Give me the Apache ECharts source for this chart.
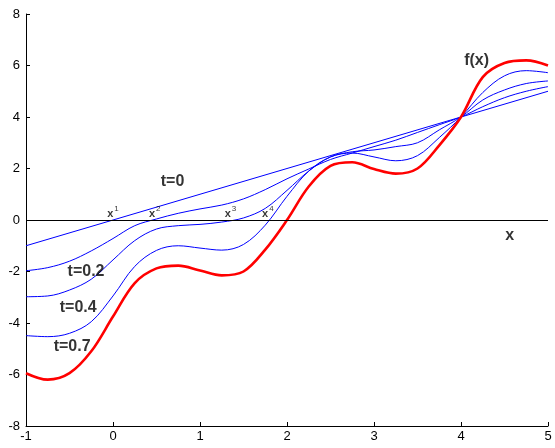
<!DOCTYPE html>
<html>
<head>
<meta charset="utf-8">
<script src="https://cdn.jsdelivr.net/npm/echarts@6/dist/echarts.min.js"></script>
<style>html,body{margin:0;padding:0;background:#fff}#c{width:555px;height:448px}</style>
</head>
<body>
<div id="c"></div>
<script>
var xs = [-1,-0.75,-0.5,-0.25,0,0.25,0.5,0.75,1,1.25,1.5,1.75,2,2.25,2.5,2.75,3,3.25,3.5,3.75,4,4.25,4.5,4.75,5];
var fx   = [-5.95,-6.2,-5.95,-5.1,-3.75,-2.45,-1.88,-1.77,-1.96,-2.15,-2.0,-1.15,0.0,1.3,2.1,2.24,1.98,1.8,2.0,2.9,4.0,5.55,6.1,6.2,6.0];
var t07  = [-4.49,-4.53,-4.4,-3.95,-2.95,-1.8,-1.18,-1.0,-1.09,-1.17,-0.95,-0.2,0.92,1.9,2.45,2.6,2.45,2.3,2.5,3.2,4.0,4.95,5.6,5.8,5.72];
var t04  = [-2.98,-2.95,-2.72,-2.3,-1.55,-0.8,-0.35,-0.22,-0.17,-0.08,0.08,0.45,1.15,1.9,2.45,2.65,2.72,2.85,3.0,3.5,4.0,4.66,5.05,5.3,5.4];
var t02  = [-1.97,-1.85,-1.6,-1.2,-0.72,-0.22,0.04,0.26,0.43,0.58,0.82,1.18,1.6,1.98,2.35,2.6,2.85,3.1,3.4,3.7,4.0,4.4,4.75,5.0,5.18];
var t0x  = [-1,5];
var t0y  = [-1,5];
var xTicks = [-1,0,1,2,3,4,5];
var yTicks = [-8,-6,-4,-2,0,2,4,6,8];
var curveLabels = [
  {name:'t=0', x:0.684, y:1.51},
  {name:'t=0.2', x:-0.31, y:-2.02},
  {name:'t=0.4', x:-0.4, y:-3.4},
  {name:'t=0.7', x:-0.47, y:-4.93},
  {name:'f(x)', x:4.18, y:6.2},
  {name:'x', x:4.56, y:-0.62}
];
var rootLabels = [
  {n:'1', x:0.0, y:0.3},
  {n:'2', x:0.48, y:0.3},
  {n:'3', x:1.35, y:0.3},
  {n:'4', x:1.78, y:0.3}
];
function pairs(a,b){return a.map(function(v,i){return [v,b[i]];});}
var chart = echarts.init(document.getElementById('c'));
var font = 'Arial, "Liberation Sans", sans-serif';
var series = [
  {type:'line', data:pairs(t0x,t0y), symbol:'none', lineStyle:{color:'#0000ff', width:1}, z:3,
   markLine:{silent:true, symbol:'none', label:{show:false}, lineStyle:{color:'#000', width:1, type:'solid'}, data:[{yAxis:0}]}},
  {type:'line', data:pairs(xs,t02), symbol:'none', smooth:0.35, lineStyle:{color:'#0000ff', width:1}, z:3},
  {type:'line', data:pairs(xs,t04), symbol:'none', smooth:0.35, lineStyle:{color:'#0000ff', width:1}, z:3},
  {type:'line', data:pairs(xs,t07), symbol:'none', smooth:0.35, lineStyle:{color:'#0000ff', width:1}, z:3},
  {type:'line', data:pairs(xs,fx), symbol:'none', smooth:0.35, lineStyle:{color:'#ff0000', width:2.6}, z:4},
  {type:'scatter', symbolSize:0, z:6, data:curveLabels.map(function(d){return {value:[d.x,d.y], name:d.name};}),
   label:{show:true, position:'inside', formatter:'{b}', color:'#000', fontFamily:font, fontSize:16, fontWeight:'bold'}},
  {type:'scatter', symbolSize:0, z:6, data:rootLabels.map(function(d){return {value:[d.x,d.y], name:d.n};}),
   label:{show:true, position:'inside', formatter:function(p){return '{a|x}{b|'+p.name+'}';},
     rich:{a:{fontFamily:font, fontSize:11, fontWeight:'bold', color:'#000', verticalAlign:'bottom'},
           b:{fontFamily:font, fontSize:8, color:'#000', padding:[0,0,7,1]}}}}
];
chart.setOption({
  animation:false,
  backgroundColor:'#fff',
  grid:{left:26, right:7, top:14, bottom:22, containLabel:false},
  xAxis:{type:'value', min:-1, max:5, interval:1,
    axisLine:{show:true, onZero:false, lineStyle:{color:'#000', width:1}},
    axisTick:{show:true, inside:true, length:4, lineStyle:{color:'#000'}},
    axisLabel:{color:'#000', fontFamily:font, fontSize:13, margin:4},
    splitLine:{show:false}},
  yAxis:{type:'value', min:-8, max:8, interval:2,
    axisLine:{show:true, onZero:false, lineStyle:{color:'#000', width:1}},
    axisTick:{show:true, inside:true, length:4, lineStyle:{color:'#000'}},
    axisLabel:{color:'#000', fontFamily:font, fontSize:13, margin:6},
    splitLine:{show:false}},
  series:series
});
</script>
</body>
</html>
